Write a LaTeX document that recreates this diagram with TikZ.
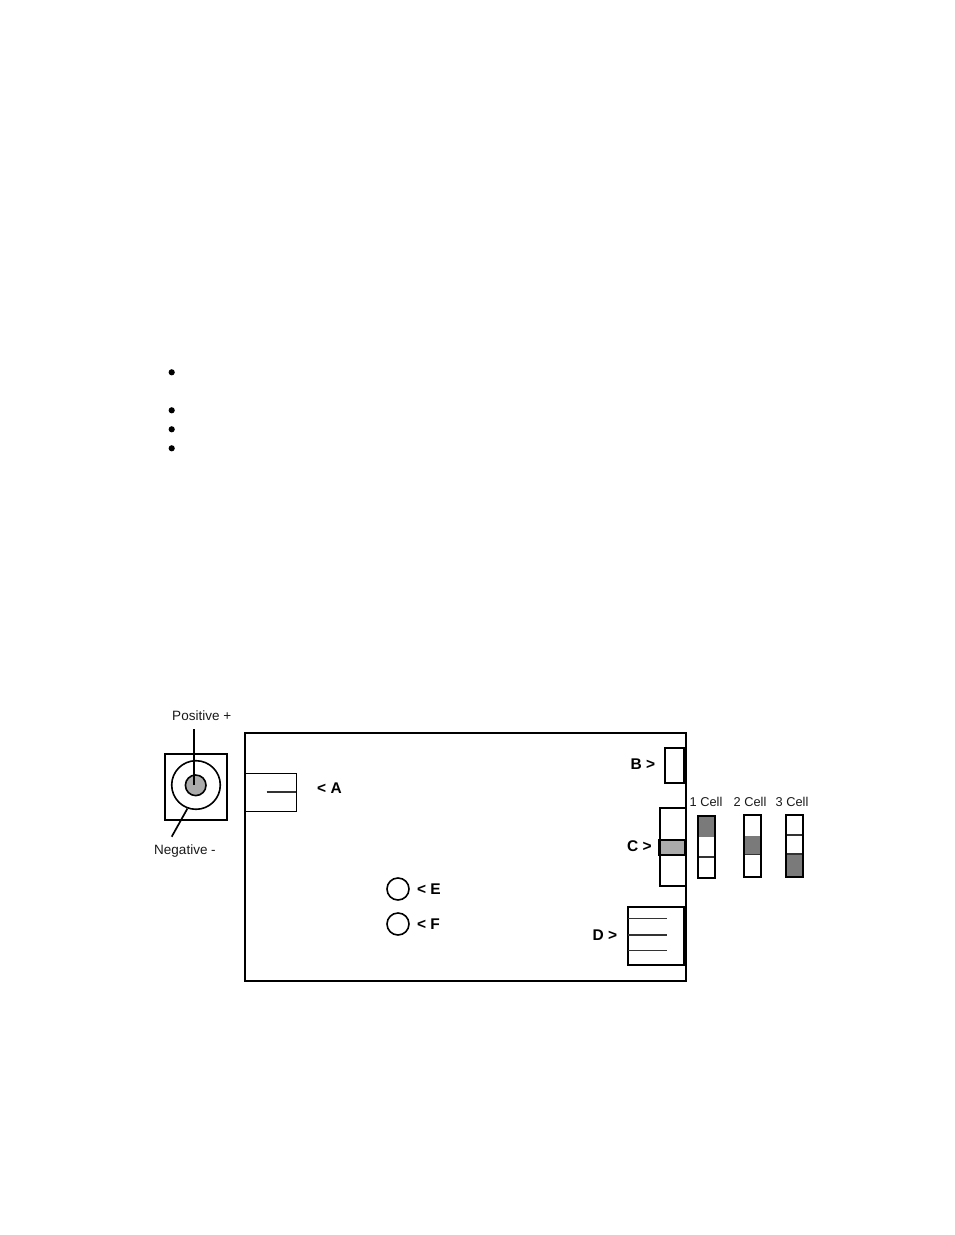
\documentclass[tikz,border=0pt]{standalone}
\usepackage{fontspec}
\setmainfont{Liberation Sans}
\usetikzlibrary{positioning}
\tikzset{
    outline/.style={draw=black, line width=1.7pt},
    thinline/.style={draw=black!80, line width=1.3pt},
    lbl/.style={font=\fontsize{13.5}{15}\selectfont, text=black!90, inner sep=0pt},
    celllbl/.style={font=\fontsize{12.8}{15}\selectfont, text=black!90, inner sep=0pt},
    partlbl/.style={font=\bfseries\fontsize{15.5}{17}\selectfont, inner sep=0pt},
    hole/.style={circle, draw=black, line width=1.6pt, inner sep=0pt, minimum size=22pt}
}
\begin{document}
\begin{tikzpicture}[x=1pt, y=-1pt]
    \useasboundingbox (0,0) rectangle (954,1235);

    % List bullets
    \foreach \y in {372.3, 410.3, 429.3, 448.3}
        \fill (171.7,\y) circle[radius=3.1pt];

    % Power jack
    \draw[outline] (164.7,753.7) rectangle (227.3,819.7);
    \node[circle, draw=black, line width=1.6pt, inner sep=0pt, minimum size=48.6pt] (jackring) at (196,785) {};
    \node[circle, draw=black, line width=1.6pt, fill=black!33, inner sep=0pt, minimum size=20.6pt] (jackcore) at (195.7,785.3) {};
    \node[lbl] (poslbl) at (201.7,715.7) {Positive +};
    \node[lbl] (neglbl) at (185,850.5) {Negative -};
    \coordinate (postop) at (194.3,729);
    \coordinate (negend) at (171.7,836.7);
    \draw[line width=1.7pt] (postop) -- (postop |- jackcore.center);
    \draw[line width=1.7pt] (jackring.250) -- (negend);

    % Main board
    \draw[outline] (245,733) rectangle (686,981);

    % Part A
    \draw[outline, line width=1.3pt] (245,773.3) rectangle (296.3,811.3);
    \coordinate (ainner) at (266.7,792);
    \coordinate (aedge) at (296.3,792);
    \draw[thinline] (ainner) -- (aedge);
    \node[partlbl] (alabel) at (329.5,788) {< A};

    % Part B
    \draw[outline] (665,748.3) rectangle (684.5,782.7);
    \draw[line width=2.8pt] (684.5,748.3) -- (684.5,782.7);
    \node[partlbl] (blabel) at (643,764) {B >};

    % Part C
    \draw[outline] (660,807.7) rectangle (686,885.7);
    \draw[outline, line width=2.2pt, fill=black!33] (659.5,840) rectangle (685.5,855);
    \node[partlbl] (clabel) at (639.3,846) {C >};

    % Part D
    \draw[outline] (627.7,906.7) rectangle (684.5,965);
    \draw[line width=2.8pt] (684.5,906.7) -- (684.5,965);
    \foreach \y/\w in {918.7/1.3pt, 935.3/2pt, 950.7/1.3pt}
        \draw[black!80, line width=\w] (628,\y) -- (667,\y);
    \node[partlbl] (dlabel) at (605,935) {D >};

    % Parts E and F
    \node[hole] (eled) at (398,889) {};
    \node[hole] (fled) at (398,924) {};
    \node[partlbl, right=7pt of eled] (elabel) {< E};
    \node[partlbl, right=7pt of fled] (flabel) {< F};

    % Cell switch positions
    \node[celllbl] (cellone) at (706,802) {1 Cell};
    \node[celllbl] (celltwo) at (750,802) {2 Cell};
    \node[celllbl] (cellthree) at (792,802) {3 Cell};

    \fill[black!52] (698,815.7) rectangle (715,836.7);
    \draw[thinline] (698,857) -- (715,857);
    \draw[outline] (698,815.7) rectangle (715,878);

    \fill[black!52] (744,836) rectangle (761,854.3);
    \draw[thinline] (744,854.3) -- (761,854.3);
    \draw[outline] (744,815) rectangle (761,877);

    \fill[black!52] (786,854) rectangle (803,877);
    \draw[thinline] (786,835) -- (803,835);
    \draw[thinline] (786,854) -- (803,854);
    \draw[outline] (786,815) rectangle (803,877);
\end{tikzpicture}
\end{document}
